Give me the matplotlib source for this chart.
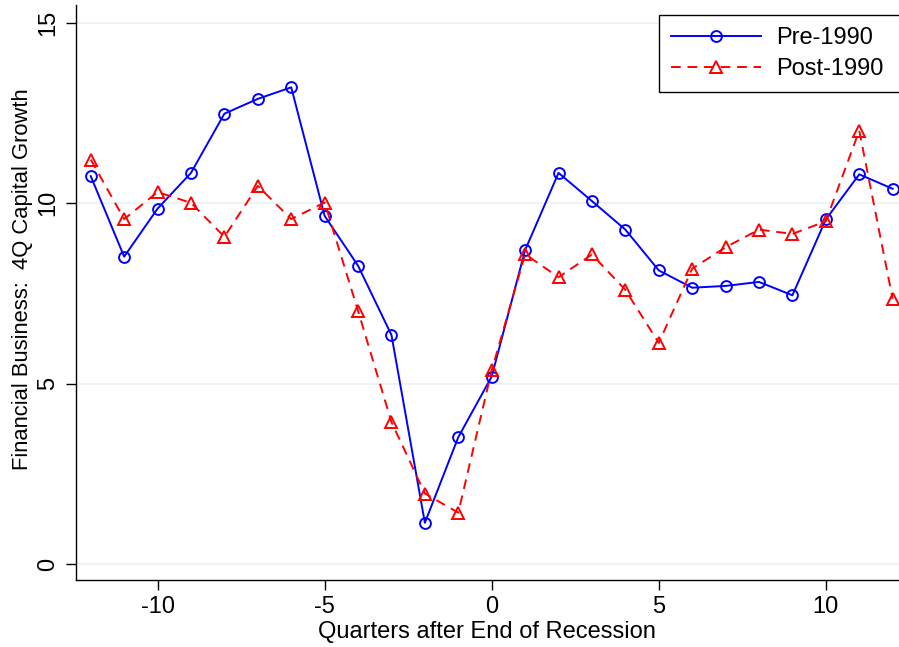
#!/usr/bin/env python3
"""Financial business 4Q capital growth around recession ends, pre- vs post-1990."""

import matplotlib

matplotlib.use("Agg")
import matplotlib.pyplot as plt

quarters = list(range(-12, 13))
pre_1990 = [10.75, 8.52, 9.85, 10.84, 12.48, 12.89, 13.21, 9.65, 8.27, 6.35,
            1.15, 3.52, 5.20, 8.70, 10.84, 10.06, 9.27, 8.14, 7.66, 7.71,
            7.82, 7.45, 9.55, 10.80, 10.40]
post_1990 = [11.21, 9.56, 10.31, 10.01, 9.07, 10.48, 9.56, 10.02, 7.02, 3.94,
             1.96, 1.43, 5.37, 8.59, 7.95, 8.58, 7.60, 6.13, 8.19, 8.78,
             9.27, 9.15, 9.50, 12.01, 7.35]
x_ticks = [-10, -5, 0, 5, 10]
y_ticks = [0, 5, 10, 15]

plt.rcParams["font.family"] = ["Liberation Sans", "DejaVu Sans"]
FS = 17

fig = plt.figure(figsize=(8.99, 6.47), dpi=100, facecolor="white")
ax = fig.add_axes([75.7 / 899, 1 - 580 / 647, 1 - 75.7 / 899, (580 - 5) / 647])

ax.plot(quarters, pre_1990, color="#0000ff", lw=1.4, marker="o", ms=7.8,
        mfc="none", mec="#0000ff", mew=1.4, label="Pre-1990", clip_on=False)
ax.plot(quarters, post_1990, color="#ff0000", lw=1.4, ls=(0, (5, 3.5)),
        marker="^", ms=8.8, mfc="none", mec="#ff0000", mew=1.4,
        label="Post-1990")

ax.set_xlim(-12.45, 12.19)
ax.set_ylim(-0.435, 15.49)
ax.set_xticks(x_ticks)
ax.set_yticks(y_ticks)
ax.set_xticklabels([str(t) for t in x_ticks])
ax.set_yticklabels([str(t) for t in y_ticks], rotation=90, va="center")
ax.grid(True, axis="y", color="#eaf2f3", lw=1.2)
ax.set_axisbelow(True)
ax.tick_params(axis="both", length=7.2, width=1.0, labelsize=FS, color="black")
ax.tick_params(axis="x", pad=4)
ax.tick_params(axis="y", pad=5)

for side in ("top", "right"):
    ax.spines[side].set_visible(False)
for side in ("left", "bottom"):
    ax.spines[side].set_linewidth(1.0)
    ax.spines[side].set_color("black")

ax.set_xlabel("Quarters after End of Recession", fontsize=FS)
ax.xaxis.set_label_coords(0.5, -(621 - 580) / 575, transform=ax.transAxes)
ax.xaxis.label.set_va("top")
ax.set_ylabel("Financial Business:  4Q Capital Growth", fontsize=15.8)
ax.yaxis.set_label_coords(-(75.7 - 33) / 823.3, (580 - 279) / 575)

# legend box runs off the right edge of the figure, as in the original
leg = ax.legend(loc="upper left",
                bbox_to_anchor=(659 / 899, 0, 250 / 899, 1 - 15 / 647),
                bbox_transform=fig.transFigure, mode="expand", fontsize=FS,
                frameon=True, fancybox=False, edgecolor="black", framealpha=1,
                handlelength=3.8, handletextpad=0.68, labelspacing=0.4,
                borderpad=0.5, borderaxespad=0)
leg.get_frame().set_linewidth(1.0)

fig.savefig("out.png", dpi=100, facecolor="white")
